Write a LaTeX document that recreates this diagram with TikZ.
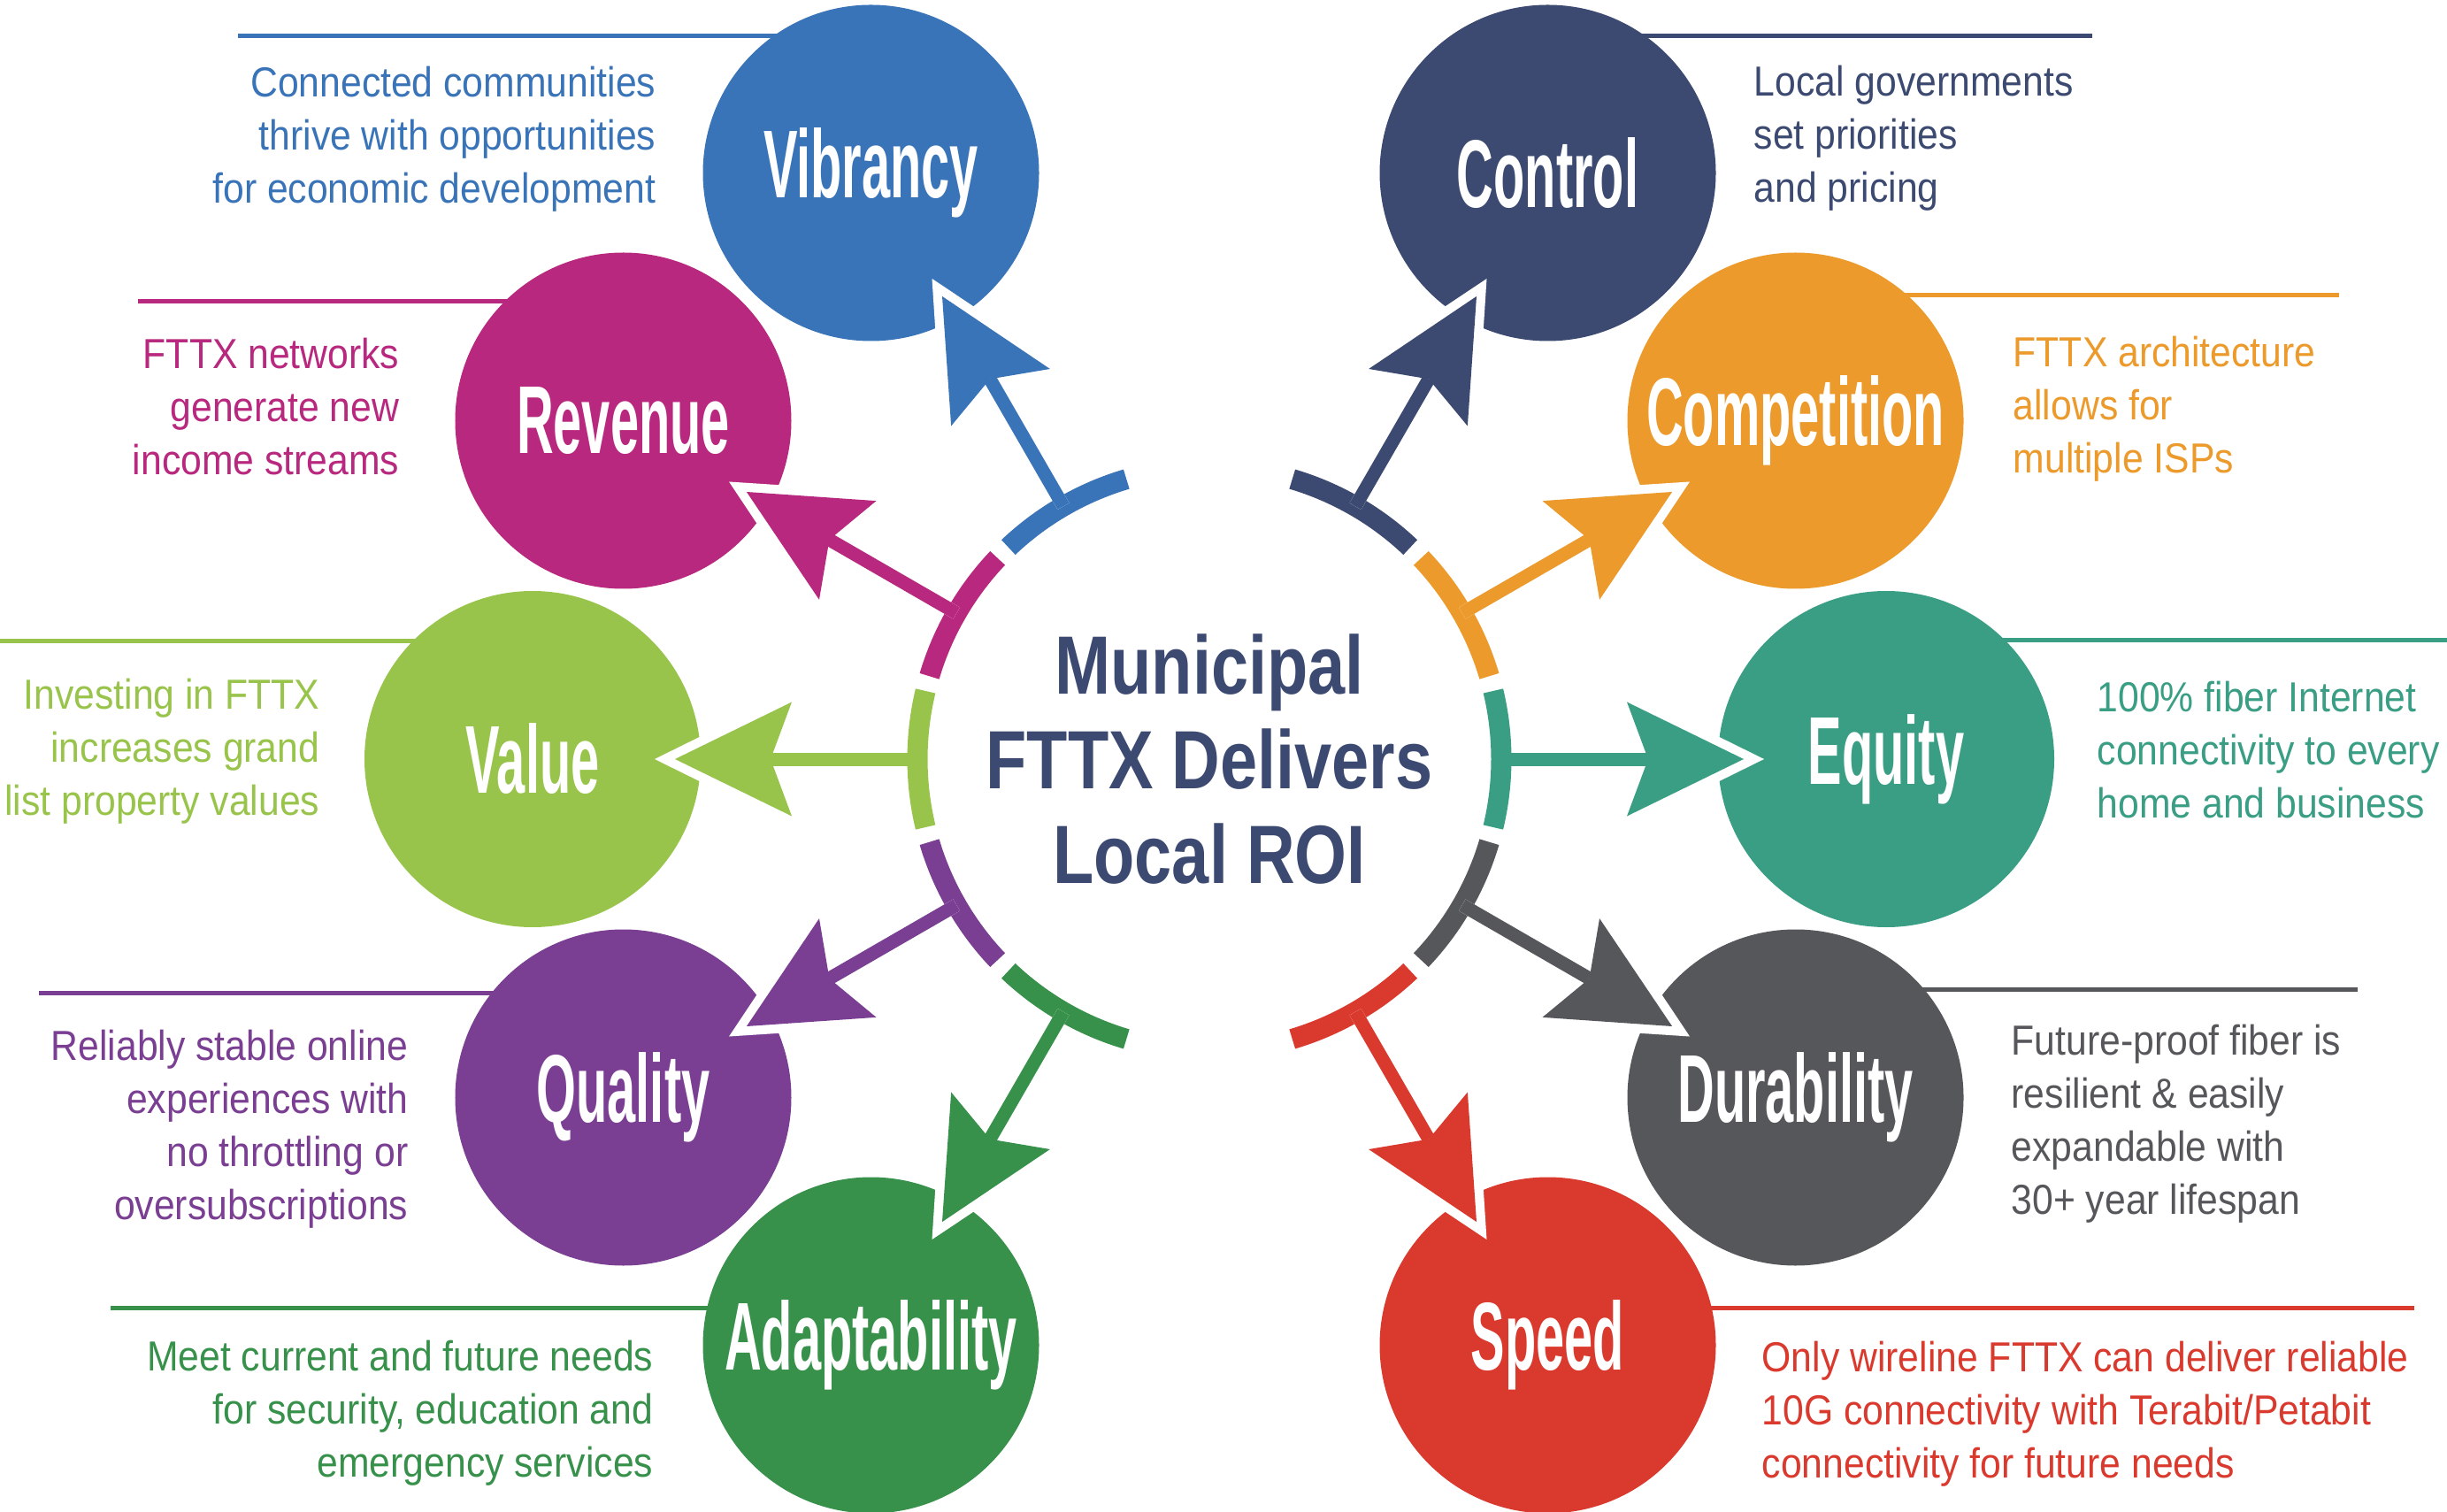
\documentclass[tikz,border=0pt]{standalone}
\usepackage{fontspec}
\setmainfont{Liberation Sans}
\newfontfamily\titlefont[FakeStretch=0.53]{Liberation Sans}
\newfontfamily\hubfont[FakeStretch=0.81]{Liberation Sans}
\newfontfamily\notefont[FakeStretch=0.9]{Liberation Sans}
\usetikzlibrary{arrows.meta,calc}

\definecolor{vibblue}{HTML}{3A74B8}
\definecolor{ctrlnavy}{HTML}{3C4A72}
\definecolor{revmagenta}{HTML}{B8287E}
\definecolor{comporange}{HTML}{EB9A2B}
\definecolor{valgreen}{HTML}{99C44B}
\definecolor{eqteal}{HTML}{3A9E84}
\definecolor{qualpurple}{HTML}{7A3F92}
\definecolor{duragray}{HTML}{55575B}
\definecolor{adaptgreen}{HTML}{37914B}
\definecolor{speedred}{HTML}{DA3A2E}

\pgfdeclarelayer{background}
\pgfdeclarelayer{foreground}
\pgfsetlayers{background,main,foreground}
\tikzset{
    hub/.style={
        circle, 
        minimum size=6.6cm, 
        inner sep=0pt, outer sep=0pt, 
        align=center, 
        text=ctrlnavy, 
        font=\hubfont\bfseries\fontsize{26.6}{30.5}\selectfont},
    topic/.style={
        circle, 
        minimum size=3.8cm, 
        inner sep=0pt, outer sep=0pt, 
        text=white, 
        font=\titlefont\bfseries\fontsize{31}{31}\selectfont},
    ring/.style={
        draw=#1, 
        line width=0.23cm},
    halo/.style={
        draw=white, 
        line width=0.15cm, 
        shorten >=1.38cm, 
        -{Stealth[length=1.62cm, width=1.6cm, inset=0.3cm, line width=0pt]}},
    link/.style={
        draw=#1, 
        line width=0.15cm, 
        shorten >=1.61cm, 
        -{Stealth[length=1.32cm, width=1.29cm, inset=0.24cm, line width=0pt]}},
    leader/.style={
        draw=#1, 
        line width=0.05cm},
    note/.style={
        inner sep=0pt, 
        font=\notefont\fontsize{13.5}{17.1}\selectfont}
}

\begin{document}
\begin{tikzpicture}
\useasboundingbox (0,0) rectangle (27.66,17.08);

\node [hub] (hub) at (13.67,8.50) {Municipal\\FTTX Delivers\\Local ROI};

% topics round the hub
\foreach \a/\n/\c/\t in {120/vibrancy/vibblue/Vibrancy, 60/control/ctrlnavy/Control, 
    150/revenue/revmagenta/Revenue, 30/competition/comporange/Competition, 
    180/value/valgreen/Value, 0/equity/eqteal/Equity, 
    210/quality/qualpurple/Quality, 330/durability/duragray/Durability, 
    240/adaptability/adaptgreen/Adaptability, 300/speed/speedred/Speed}{

\node [topic, fill=\c] (\n) at ($(hub.center)+(\a:7.65)$) {\t};
\draw [ring=\c] (hub.center) ++({\a-13.5}:3.3) arc[start angle=\a-13.5, end angle=\a+13.5, radius=3.3];

\begin{pgfonlayer}{foreground}
\draw [halo] (hub.\a) -- (\n.center);
\draw [link=\c] (hub.\a) -- (\n.center);
\end{pgfonlayer}
}

% notes on the left
\foreach \n/\c/\lx/\ly/\tx/\ty/\txt in {
    vibrancy/vibblue/2.69/16.67/7.42/16.335/{Connected communities\\thrive with opportunities\\for economic development},
    revenue/revmagenta/1.56/13.67/4.52/13.265/{FTTX networks\\generate new\\income streams},
    value/valgreen/0/9.83/3.62/9.415/{Investing in FTTX\\increases grand\\list property values},
    quality/qualpurple/0.44/5.86/4.62/5.445/{Reliably stable online\\experiences with\\no throttling or\\oversubscriptions},
    adaptability/adaptgreen/1.25/2.30/7.39/1.935/{Meet current and future needs\\for security, education and\\emergency services}}{
\coordinate (\n-lead) at (\lx,\ly);
\begin{pgfonlayer}{background}
\draw [leader=\c] (\n-lead) -- (\n-lead -| \n.center);
\end{pgfonlayer}
\node [note, anchor=north east, align=right, text=\c] (\n-note) at (\tx,\ty) {\txt};
}

% notes on the right
\foreach \n/\c/\lx/\ly/\tx/\ty/\txt in {
    control/ctrlnavy/23.65/16.67/19.82/16.345/{Local governments\\set priorities\\and pricing},
    competition/comporange/26.44/13.74/22.75/13.285/{FTTX architecture\\allows for\\multiple ISPs},
    equity/eqteal/27.66/9.84/23.70/9.385/{100\% fiber Internet\\connectivity to every\\home and business},
    durability/duragray/26.65/5.90/22.73/5.505/{Future-proof fiber is\\resilient \& easily\\expandable with\\30+ year lifespan},
    speed/speedred/27.29/2.30/19.91/1.925/{Only wireline FTTX can deliver reliable\\10G connectivity with Terabit/Petabit\\connectivity for future needs}}{
\coordinate (\n-lead) at (\lx,\ly);
\begin{pgfonlayer}{background}
\draw [leader=\c] (\n-lead) -- (\n-lead -| \n.center);
\end{pgfonlayer}
\node [note, anchor=north west, align=left, text=\c] (\n-note) at (\tx,\ty) {\txt};
}

\end{tikzpicture}
\end{document}
